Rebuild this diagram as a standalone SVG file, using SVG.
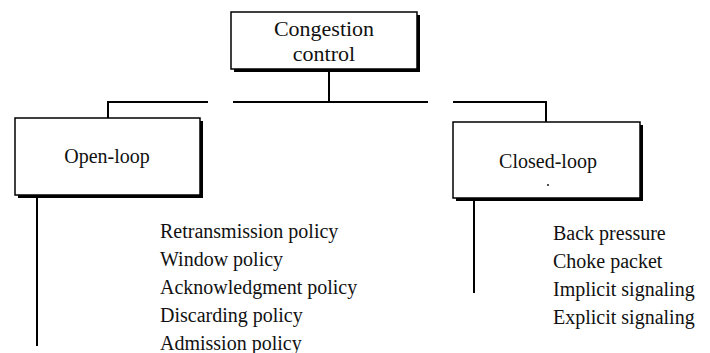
<svg xmlns="http://www.w3.org/2000/svg" width="710" height="353" viewBox="0 0 710 353">
<style>
.box{fill:#fff;stroke:#000;stroke-width:1.5}
.sh{fill:#000}
.t{font-family:'Liberation Serif','DejaVu Serif','Times New Roman',serif;font-size:20px;fill:#111}
.big{font-size:22px}
.c{text-anchor:middle}
.ln{stroke:#000;stroke-width:2;fill:none}
</style>
<rect width="710" height="353" fill="#fff"/>
<g id="connectors">
<line class="ln" x1="329" y1="70" x2="329" y2="102"/>
<polyline class="ln" points="108,118 108,102 208,102"/>
<line class="ln" x1="233" y1="102" x2="428" y2="102"/>
<polyline class="ln" points="453,102 546,102 546,122"/>
<line class="ln" x1="37" y1="198" x2="37" y2="346"/>
<line class="ln" x1="474" y1="200" x2="474" y2="293"/>
</g>
<g id="congestion-control">
<rect class="sh" x="234" y="15" width="186" height="57"/>
<rect class="box" x="231" y="12" width="186" height="57"/>
<text class="t big c" x="324" y="36">Congestion</text>
<text class="t big c" x="324" y="61">control</text>
</g>
<g id="open-loop">
<rect class="sh" x="18" y="121" width="185" height="77"/>
<rect class="box" x="15" y="118" width="185" height="77"/>
<text class="t c" x="107" y="163" font-size="21">Open-loop</text>
</g>
<g id="closed-loop">
<rect class="sh" x="456" y="125" width="187" height="76"/>
<rect class="box" x="453" y="122" width="187" height="76"/>
<text class="t c" x="548" y="168">Closed-loop</text>
<circle cx="548" cy="185" r="0.9" fill="#000"/>
</g>
<g id="open-loop-list">
<text class="t" x="160" y="238">Retransmission policy</text>
<text class="t" x="160" y="266">Window policy</text>
<text class="t" x="160" y="294">Acknowledgment policy</text>
<text class="t" x="160" y="322">Discarding policy</text>
<text class="t" x="160" y="350">Admission policy</text>
</g>
<g id="closed-loop-list">
<text class="t" x="553" y="240">Back pressure</text>
<text class="t" x="553" y="268">Choke packet</text>
<text class="t" x="553" y="296">Implicit signaling</text>
<text class="t" x="553" y="324">Explicit signaling</text>
</g>
</svg>
